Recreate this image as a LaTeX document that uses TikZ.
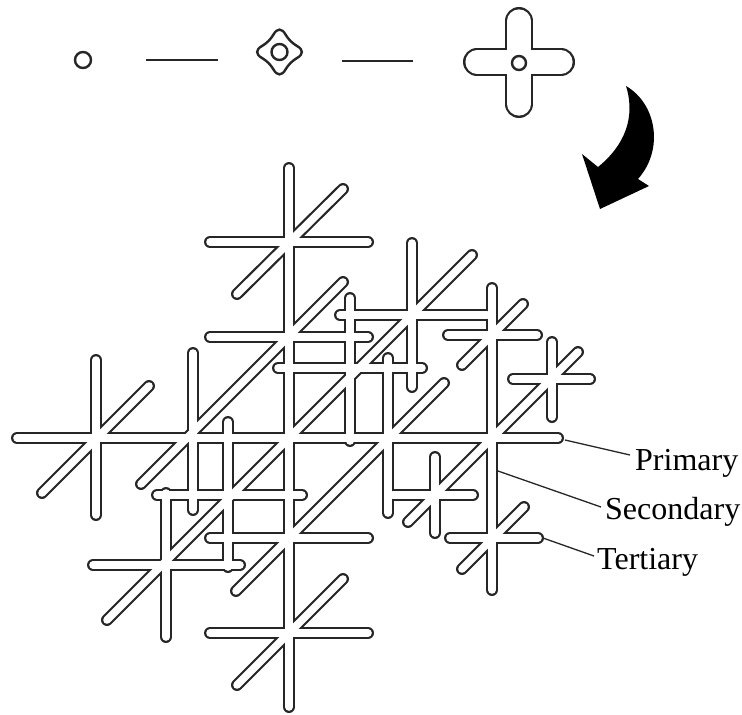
\documentclass[tikz,border=0pt]{standalone}
\usepackage{fontspec}
\setmainfont{Liberation Serif}
\begin{document}
\begin{tikzpicture}[x=1pt,y=-1pt]
\useasboundingbox (0,0) rectangle (742,715);
\tikzset{
  rodout/.style={line width=12pt, line cap=round, black!85},
  rodin/.style={line width=7.6pt, line cap=round, white},
  thinout/.style={line width=2.4pt, black!85},
  crossout/.style={line width=28pt, line cap=round, black!85},
  crossin/.style={line width=23.2pt, line cap=round, white},
  lead/.style={line width=1.3pt, black!85},
  lab/.style={font=\fontsize{32}{36}\selectfont, inner sep=0pt, anchor=base west}
}
\def\rodlist{
  96/360/96/515, 166/493/166/637, 193/353/193/510, 228/422/228/567,
  289/168/289/707, 350/298/350/441, 388/358/388/513, 412/243/412/387,
  435/457/435/533, 492/288/492/590, 552/342/552/417,
  210/242/368/242, 340/315/487/315, 448/335/537/335, 210/337/368/337,
  278/368/422/368, 513/379/590/379, 17/438/558/438, 157/495/302/495,
  393/495/473/495, 210/538/368/538, 450/538/538/538, 93/565/240/565,
  210/633/368/633,
  237/294/343/189, 141/484/343/282, 42/493/149/386, 107/620/472/255,
  236/591/444/383, 462/365/523/304, 237/685/343/579, 408/522/578/352,
  462/569/524/507}
% lattice: black pass then white pass gives merged tube outlines
\foreach \a/\b/\c/\d in \rodlist { \draw[rodout] (\a,\b) -- (\c,\d); }
\foreach \a/\b/\c/\d in \rodlist { \draw[rodin] (\a,\b) -- (\c,\d); }

% top row
\draw[thinout] (83,60) circle[radius=8];
\coordinate (l1a) at (146,60); \coordinate (l1b) at (218,60);
\draw[thinout] (l1a) -- (l1b);
\begin{scope}[shift={(279.5,52)}]
\draw[thinout] (-6,-17.5) .. controls (-2.5,-24) and (2.5,-24) .. (6,-17.5)
  .. controls (9,-12.5) and (12.5,-9) .. (17.5,-6)
  .. controls (24,-2.5) and (24,2.5) .. (17.5,6)
  .. controls (12.5,9) and (9,12.5) .. (6,17.5)
  .. controls (2.5,24) and (-2.5,24) .. (-6,17.5)
  .. controls (-9,12.5) and (-12.5,9) .. (-17.5,6)
  .. controls (-24,2.5) and (-24,-2.5) .. (-17.5,-6)
  .. controls (-12.5,-9) and (-9,-12.5) .. (-6,-17.5) -- cycle;
\draw[thinout] (0,0) circle[radius=8];
\end{scope}
\coordinate (l2a) at (342,61); \coordinate (l2b) at (413,61);
\draw[thinout] (l2a) -- (l2b);
\draw[crossout] (477,62) -- (561,62);
\draw[crossout] (519,21) -- (519,104);
\draw[crossin] (477,62) -- (561,62);
\draw[crossin] (519,21) -- (519,104);
\draw[thinout] (519,63) circle[radius=7];

% curved arrow
\fill[black] (626,86) .. controls (657,104) and (664,150) .. (638,179)
  -- (649,186) -- (600,209) -- (582,154) -- (598,167)
  .. controls (624,146) and (636,118) .. (626,86) -- cycle;

% labels
\node[lab] (tp) at (635,470) {Primary};
\node[lab] (ts) at (605,519) {Secondary};
\node[lab] (tt) at (597,569) {Tertiary};
\coordinate (pe) at (565,440);
\coordinate (se) at (498,471);
\coordinate (te) at (543,538);
\coordinate (pl) at (630,455);
\coordinate (sl) at (601,507);
\coordinate (tl) at (594,556);
\draw[lead] (pe) -- (pl);
\draw[lead] (se) -- (sl);
\draw[lead] (te) -- (tl);
\end{tikzpicture}
\end{document}
